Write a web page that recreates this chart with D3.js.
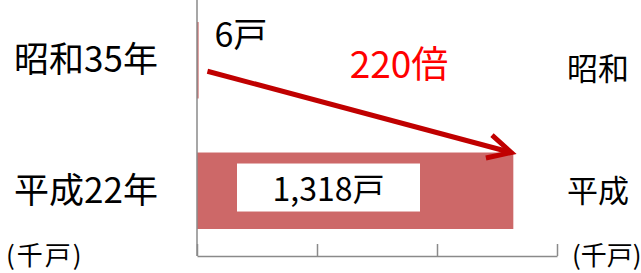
<!DOCTYPE html>
<html><head><meta charset="utf-8">
<script src="https://cdn.jsdelivr.net/npm/d3@7"></script>
<style>html,body{margin:0;padding:0;background:#fff;overflow:hidden}</style>
</head><body>
<script>
const categories = ["昭和35年", "平成22年"];
const values = [6, 1318];
const valueLabels = ["6戸", "1,318戸"];
const tickValues = [0, 500, 1000, 1500];
const unitLabel = "(千戸)";
const ratioLabel = "220倍";
const rightCategories = ["昭和", "平成"];

const W = 641, H = 273;
const svg = d3.select("body").append("svg").attr("width", W).attr("height", H)
  .style("font-family", "'Noto Sans CJK JP', sans-serif");

const x = d3.scaleLinear().domain([0, 1500]).range([197, 557]);
const y = d3.scaleBand().domain(categories).range([0, 251]).paddingInner(0.414).paddingOuter(0.1686);
const axisY = 256;
const barColor = "#cd6868";
const axisColor = "#8a8a8a";

// bars
svg.selectAll("rect.bar").data(categories).join("rect")
  .attr("class", "bar")
  .attr("x", x(0))
  .attr("y", d => y(d))
  .attr("width", (d, i) => Math.max(1.6, x(values[i]) - x(0)))
  .attr("height", y.bandwidth())
  .attr("fill", barColor);

// axes
const xAxis = d3.axisBottom(x).tickValues(tickValues).tickSize(-12).tickSizeOuter(0).tickFormat("");
const gx = svg.append("g").attr("transform", `translate(0,${axisY})`).call(xAxis);
gx.select(".domain").attr("stroke", axisColor).attr("stroke-width", 1.5);
gx.selectAll(".tick line").attr("stroke", axisColor).attr("stroke-width", 1.5);

svg.append("line").attr("x1", x(0)).attr("x2", x(0)).attr("y1", 0).attr("y2", axisY)
  .attr("stroke", axisColor).attr("stroke-width", 1.5);

// category labels
svg.selectAll("text.cat").data(categories).join("text")
  .attr("class", "cat")
  .attr("x", 86).attr("y", d => y(d) + y.bandwidth() / 2 + 12)
  .attr("text-anchor", "middle").attr("font-size", 35).attr("fill", "#000")
  .text(d => d);

// unit label
svg.append("text").attr("x", 6).attr("y", 265).attr("font-size", 26)
  .attr("letter-spacing", 2).attr("fill", "#000").text(unitLabel);

// value labels
const c0 = categories[0], c1 = categories[1];
svg.append("text").attr("x", x(values[0]) + 16).attr("y", y(c0) + 25)
  .attr("font-size", 34).attr("fill", "#000").text(valueLabels[0]);

const boxX0 = x(0) + 40, boxX1 = x(0) + 223;
svg.append("rect").attr("x", boxX0).attr("y", y(c1) + 11).attr("width", boxX1 - boxX0).attr("height", 48).attr("fill", "#fff");
svg.append("text").attr("x", (boxX0 + boxX1) / 2).attr("y", y(c1) + 48)
  .attr("text-anchor", "middle").attr("font-size", 32).attr("fill", "#000").text(valueLabels[1]);

// arrow
const ax0 = x(values[0]) + 9, ay0 = y(c0) + y.bandwidth() / 2 + 11;
const ax1 = x(values[1]) - 2, ay1 = y(c1);
const ang = Math.atan2(ay1 - ay0, ax1 - ax0);
const wl = 26, wa = 27 * Math.PI / 180;
const arrowColor = "#c00000";
svg.append("line").attr("x1", ax0).attr("y1", ay0).attr("x2", ax1 - 2 * Math.cos(ang)).attr("y2", ay1 - 2 * Math.sin(ang))
  .attr("stroke", arrowColor).attr("stroke-width", 5);
svg.append("polyline")
  .attr("points", [
    [ax1 - wl * Math.cos(ang - wa), ay1 - wl * Math.sin(ang - wa)],
    [ax1, ay1],
    [ax1 - wl * Math.cos(ang + wa), ay1 - wl * Math.sin(ang + wa)]
  ].map(p => p.join(",")).join(" "))
  .attr("fill", "none").attr("stroke", arrowColor).attr("stroke-width", 5)
  .attr("stroke-linejoin", "miter").attr("stroke-linecap", "butt");

svg.append("text").attr("x", 399).attr("y", 78).attr("text-anchor", "middle")
  .attr("font-size", 37).attr("fill", "#ff0000").text(ratioLabel);

// partial second chart on the right
svg.selectAll("text.rcat").data(rightCategories).join("text")
  .attr("class", "rcat")
  .attr("x", 567).attr("y", (d, i) => [80, 202][i])
  .attr("font-size", 31).attr("fill", "#000").text(d => d);
svg.append("text").attr("x", 572).attr("y", 265).attr("font-size", 26)
  .attr("fill", "#000").text(unitLabel);
</script>
</body></html>
